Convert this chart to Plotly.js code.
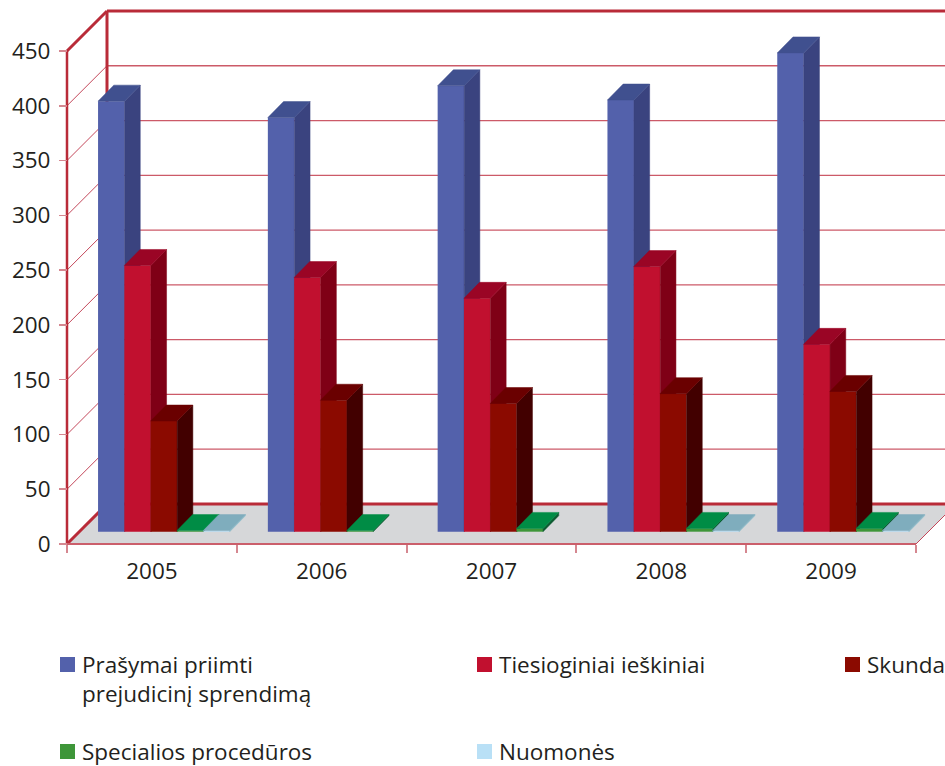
<!DOCTYPE html>
<html><head><meta charset="utf-8">
<script src="https://cdn.plot.ly/plotly-3.0.1.min.js"></script>
<style>html,body{margin:0;padding:0;background:#fff;overflow:hidden}</style>
</head><body><div id="chart" style="width:945px;height:766px"></div>
<script>
// ---- data ----
const years = ['2005','2006','2007','2008','2009'];
const seriesNames = ['Prašymai priimti<br>prejudicinį sprendimą','Tiesioginiai ieškiniai','Skundai','Specialios procedūros','Nuomonės'];
const prasymai = [393,378,407,394,437];
const ieskiniai = [243,232,213,242,171];
const skundai = [101,120,117,126,128];
const specialios = [1,1,3,3,3];
const nuomones = [1,0,0,1,1];
const yTicks = [0,50,100,150,200,250,300,350,400,450];
// ---- styles ----
const frontColors = ['#5361ab','#c1102f','#8b0a00','#3e9639','#b9e0f6'];
const sideColors  = ['#3a437f','#7f0016','#420000','#0c5a30','#8fbccb'];
const topColors   = ['#40508f','#9a0525','#6a0000','#008c45','#7fadbd'];
const values = [prasymai,ieskiniai,skundai,specialios,nuomones];

// pixel layout -> data scale helpers
const pxPerCat = 169.8, pxPerUnit = 1.0956, W = 945, H = 766;
const plotL = 40, plotB = 552, x0px = 67, y0px = 544;
const dx = p => p / pxPerCat, dy = p => p / pxPerUnit;
const X = p => (p - x0px) / pxPerCat - 0.5, Y = p => (y0px - p) / pxPerUnit;
const xRange = [X(plotL), X(W)], yRange = [Y(plotB), Y(0)];
const wallX = dx(40), wallY = dy(40);      // chart depth
const barDX = dx(15.7), barDY = dy(16);    // bar depth
const barOffX = dx(12), barBase = dy(12.3); // bars stand inside the floor
const barW = dx(26.5), pitch = dx(26.3);

const traces = [];
seriesNames.forEach((name,s) => {
  const ax = s === 0 ? '' : String(s+1);
  const xs = years.map((_,i) => i + barOffX + (s - 2) * pitch);
  traces.push({type:'bar', name, x:xs, y:values[s], base:years.map(()=>barBase), width:barW,
    marker:{color:frontColors[s], line:{width:0}}, xaxis:'x'+ax, yaxis:'y'+ax, showlegend:false,
    hovertext:years, hoverinfo:'y+text'});
  const sx=[],sy=[],tx=[],ty=[];
  xs.forEach((c,i) => {
    if (!values[s][i]) return;
    const l=c-barW/2, r=c+barW/2, t=barBase+values[s][i], b=barBase;
    sx.push(r,r+barDX,r+barDX,r,r,null); sy.push(b,b+barDY,t+barDY,t,b,null);
    tx.push(l,r,r+barDX,l+barDX,l,null); ty.push(t,t,t+barDY,t+barDY,t,null);
  });
  [[sx,sy,sideColors[s]],[tx,ty,topColors[s]]].forEach(([a,b,c]) => traces.push({
    type:'scatter', mode:'lines', x:a, y:b, fill:'toself', fillcolor:c, line:{width:0.5,color:c},
    xaxis:'x'+ax, yaxis:'y'+ax, showlegend:false, hoverinfo:'skip'}));
});

// walls, floor and grid
const seg = (x0,y0,x1,y1,color,width) => ({type:'line',xref:'x',yref:'y',layer:'below',x0,y0,x1,y1,line:{color,width}});
const xEnd = years.length - 0.5;
const shapes = [{type:'path',xref:'x',yref:'y',layer:'below',line:{width:0},fillcolor:'#d6d7d9',
  path:`M-0.5,0 L${-0.5+wallX},${wallY} L${xEnd+wallX},${wallY} L${xEnd},0 Z`}];
yTicks.slice(1,-1).forEach(v => {
  shapes.push(seg(-0.5+wallX,v+wallY,xRange[1],v+wallY,'#cc5a68',1.3));
  shapes.push(seg(-0.5,v,-0.5+wallX,v+wallY,'#c4475a',1));
});
const topV = yTicks[yTicks.length-1], red='#b92b38';
shapes.push(seg(-0.5+wallX,wallY,xRange[1],wallY,red,3));
shapes.push(seg(-0.5+wallX,topV+wallY,xRange[1],topV+wallY,red,3));
shapes.push(seg(-0.5+wallX,wallY,-0.5+wallX,topV+wallY,red,3));
shapes.push(seg(-0.5,0,-0.5,topV,red,2.5));
shapes.push(seg(-0.5,topV,-0.5+wallX,topV+wallY,red,3));
shapes.push(seg(-0.5,0,-0.5+wallX,wallY,red,3));
shapes.push(seg(-0.5,0,xEnd,0,'#cb5f6b',2.2));
shapes.push(seg(xEnd,0,xEnd+wallX,wallY,'#c4475a',1));

// legend drawn at its own place
const legendPos = [[60,657],[477,657],[845,657],[60,744],[477,744]];
const font = {family:'"Open Sans", sans-serif', size:22.5, color:'#231f20'};
const annotations = seriesNames.map((n,s) => ({xref:'paper',yref:'paper',
  x:(legendPos[s][0]+21-plotL)/(W-plotL), y:1-(legendPos[s][1]-9)/plotB,
  xanchor:'left', yanchor:'top', align:'left', showarrow:false, text:n, font, borderpad:0}));
seriesNames.forEach((n,s) => {
  const [px,py] = legendPos[s];
  shapes.push({type:'rect',xref:'paper',yref:'paper',line:{width:0},fillcolor:frontColors[s],
    x0:(px-plotL)/(W-plotL), x1:(px+15-plotL)/(W-plotL), y0:1-py/plotB, y1:1-(py+15)/plotB});
});

const layout = {width:W,height:H,margin:{l:plotL,r:0,t:0,b:H-plotB},paper_bgcolor:'#fff',plot_bgcolor:'rgba(0,0,0,0)',
  barmode:'overlay',showlegend:false,shapes,annotations,font,
  xaxis:{range:xRange,anchor:'free',position:(plotB-y0px)/plotB,tickmode:'array',tickvals:years.map((_,i)=>i),ticktext:years,
    ticks:'',showgrid:false,zeroline:false,showline:false,tickfont:font,ticklabelstandoff:11,
    minor:{tickmode:'array',tickvals:[-0.5,0.5,1.5,2.5,3.5,4.5],ticks:'outside',ticklen:8,tickwidth:2,tickcolor:'#d58790',showgrid:false}},
  yaxis:{range:yRange,anchor:'free',position:(x0px-plotL)/(W-plotL),tickmode:'array',tickvals:yTicks,ticks:'outside',ticklen:8,tickwidth:1.5,
    tickcolor:'#d58790',showgrid:false,zeroline:false,showline:false,tickfont:font,ticklabelstandoff:4}
};
for (let k=2;k<=5;k++){
  layout['xaxis'+k]={range:xRange,overlaying:'x',visible:false,matches:'x'};
  layout['yaxis'+k]={range:yRange,overlaying:'y',visible:false,matches:'y'};
}
Plotly.newPlot('chart',traces,layout,{displayModeBar:false,staticPlot:true});
</script></body></html>
